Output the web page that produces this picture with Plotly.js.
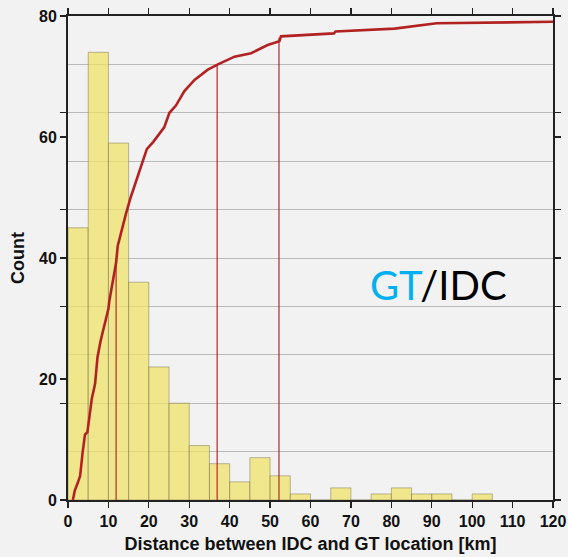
<!DOCTYPE html>
<html>
<head>
<meta charset="utf-8">
<script src="https://cdn.plot.ly/plotly-3.0.1.min.js"></script>
<style>
  html, body { margin: 0; padding: 0; background: #f2f2f2; }
  #chart { width: 568px; height: 557px; }
</style>
</head>
<body>
<div id="chart"></div>
<script>
// Histogram bins (km) and counts
var binStarts = [0, 5, 10, 15, 20, 25, 30, 35, 40, 45, 50, 55, 60, 65, 70, 75, 80, 85, 90, 95, 100];
var binCounts = [45, 74, 59, 36, 22, 16, 9, 6, 3, 7, 4, 1, 0, 2, 0, 1, 2, 1, 1, 0, 1];
var binWidth = 5;

// Cumulative distribution (km, fraction)
var cdfKm = [1.2, 1.7, 2.4, 3.0, 3.6, 4.2, 4.8, 5.3, 5.9, 6.7, 7.3, 8.1, 8.9, 10.0, 10.2, 11.0, 11.9, 12.3, 13.5, 14.3, 15.5, 17.1, 18.3, 19.5, 21.1, 23.2, 23.8, 25.1, 26.7, 28.8, 31.3, 34.6, 37.1, 41.2, 45.3, 49.4, 52.3, 52.7, 65.8, 66.2, 80.8, 91.2, 120];
var cdfFrac = [0, 0.02, 0.035, 0.05, 0.097, 0.135, 0.14, 0.175, 0.21, 0.24, 0.295, 0.33, 0.36, 0.395, 0.41, 0.445, 0.49, 0.525, 0.565, 0.59, 0.625, 0.665, 0.695, 0.725, 0.74, 0.765, 0.77, 0.80, 0.815, 0.845, 0.868, 0.889, 0.90, 0.916, 0.923, 0.94, 0.948, 0.958, 0.964, 0.968, 0.974, 0.985, 0.988];

// Percentile markers (km, fraction)
var pctKm = [11.9, 36.9, 52.2];
var pctFrac = [0.5, 0.9, 0.955];

var barX = binStarts.map(function (s) { return s + binWidth / 2; });

var vx = [], vy = [];
for (var i = 0; i < pctKm.length; i++) {
  vx.push(pctKm[i], pctKm[i], null);
  vy.push(0, pctFrac[i], null);
}

var traces = [
  {
    type: 'bar', x: barX, y: binCounts, width: binWidth,
    marker: { color: 'rgba(239,226,106,0.75)', line: { color: 'rgba(110,105,70,0.45)', width: 1 } },
    hoverinfo: 'skip', xaxis: 'x', yaxis: 'y'
  },
  {
    type: 'scatter', mode: 'lines', x: vx, y: vy, xaxis: 'x', yaxis: 'y2',
    line: { color: '#b02a2a', width: 1.2 }, hoverinfo: 'skip', connectgaps: false
  },
  {
    type: 'scatter', mode: 'lines', x: cdfKm, y: cdfFrac, xaxis: 'x', yaxis: 'y2',
    line: { color: '#b22222', width: 2.6 }, hoverinfo: 'skip'
  }
];

var tickFont = { family: 'Liberation Sans, Arial, sans-serif', size: 16, color: '#111', weight: 'bold' };
var titleFont = { family: 'Liberation Sans, Arial, sans-serif', size: 18, color: '#111', weight: 'bold' };

var layout = {
  width: 568, height: 557,
  margin: { l: 68, r: 15, t: 16, b: 57 },
  paper_bgcolor: '#f2f2f2', plot_bgcolor: '#f2f2f2',
  showlegend: false,
  bargap: 0,
  xaxis: {
    range: [0, 120], dtick: 10, tick0: 0,
    ticks: 'outside', ticklen: 6, tickwidth: 1.2, tickcolor: '#222',
    showline: true, linecolor: '#222', linewidth: 2, mirror: 'allticks',
    showgrid: false, zeroline: false,
    tickfont: tickFont,
    title: { text: 'Distance between IDC and GT location [km]', font: titleFont, standoff: 8 },
    automargin: false
  },
  yaxis: {
    range: [0, 80], dtick: 20, tick0: 0,
    ticks: 'outside', ticklen: 6, tickwidth: 1.2, tickcolor: '#222',
    showline: true, linecolor: '#222', linewidth: 2, mirror: 'allticks',
    showgrid: false, zeroline: false,
    tickfont: tickFont,
    title: { text: 'Count', font: titleFont, standoff: 10 },
    automargin: false
  },
  yaxis2: {
    overlaying: 'y', side: 'right',
    range: [0, 1], dtick: 0.2, tick0: 0,
    ticks: 'outside', ticklen: 6, tickwidth: 1.2, tickcolor: '#222',
    showline: true, linecolor: '#222', linewidth: 2, mirror: 'allticks',
    showticklabels: false,
    showgrid: true, gridcolor: '#b9b9b9', gridwidth: 1,
    minor: { dtick: 0.1, showgrid: true, gridcolor: '#b9b9b9', gridwidth: 1, ticks: '' },
    zeroline: false, automargin: false
  },
  annotations: [
    {
      xref: 'paper', yref: 'paper', x: 0.763, y: 0.444,
      xanchor: 'center', yanchor: 'middle', showarrow: false,
      text: '<span style="color:#00b0f0">GT</span>/IDC',
      font: { family: 'Lato, Open Sans, sans-serif', size: 40, color: '#000' }
    }
  ]
};

Plotly.newPlot('chart', traces, layout, { displayModeBar: false, staticPlot: true });
</script>
</body>
</html>
